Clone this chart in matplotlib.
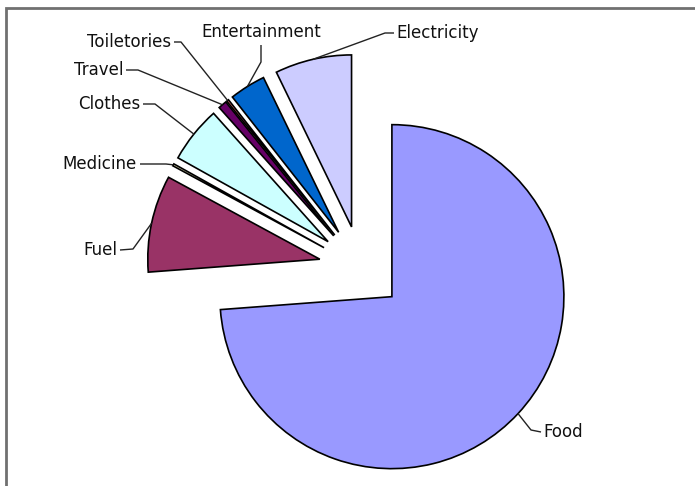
import matplotlib
matplotlib.use("Agg")
import matplotlib.pyplot as plt
import numpy as np
from matplotlib.patches import Rectangle

# ---- data ----
categories = ["Food", "Fuel", "Medicine", "Clothes", "Travel",
              "Toiletories", "Entertainment", "Electricity"]
values = [73.8, 9.1, 0.2, 5.3, 0.8, 0.2, 3.4, 7.2]
colors = ["#9999FF", "#993366", "#FFFFCC", "#CCFFFF", "#660066",
          "#FF8080", "#0066CC", "#CCCCFF"]

# ---- layout (pixels of a 695x486 canvas) ----
W, H = 695, 486
CX, CY, R = 361, 268, 172          # pie centre and radius in pixels
EXPLODE = 0.245

# label text anchor (px), alignment, and leader elbow points (px)
label_pos = {
    "Food":          ((543, 432), "left",   [(531, 430), (541, 432)]),
    "Fuel":          ((117, 250), "right",  [(133, 249), (120, 250)]),
    "Medicine":      ((137, 164), "right",  [(166, 164), (140, 164)]),
    "Clothes":       ((140, 104), "right",  [(155, 104), (143, 104)]),
    "Travel":        ((123, 70),  "right",  [(138, 70), (126, 70)]),
    "Toiletories":   ((171, 42),  "right",  [(181, 42), (174, 42)]),
    "Entertainment": ((261, 32),  "center", [(261, 62), (261, 45)]),
    "Electricity":   ((396, 33),  "left",   [(385, 33), (394, 33)]),
}


def d(px, py):
    return (px - CX) / R, (CY - py) / R


fig = plt.figure(figsize=(W / 100, H / 100), dpi=100)
ax = fig.add_axes([0, 0, 1, 1])

wedges, _ = ax.pie(values, colors=colors, explode=[EXPLODE] * len(values),
                   startangle=90, counterclock=False, radius=1,
                   wedgeprops=dict(edgecolor="black", linewidth=1.2))

ax.set_aspect("auto")
ax.set_xlim((0 - CX) / R, (W - CX) / R)
ax.set_ylim((CY - H) / R, CY / R)
ax.axis("off")

for w, name in zip(wedges, categories):
    mid = np.deg2rad((w.theta1 + w.theta2) / 2)
    ax0 = w.center[0] + w.r * np.cos(mid)
    ay0 = w.center[1] + w.r * np.sin(mid)
    (tx, ty), ha, elbows = label_pos[name]
    xs = [ax0] + [d(*p)[0] for p in elbows]
    ys = [ay0] + [d(*p)[1] for p in elbows]
    ax.plot(xs, ys, color="#222222", lw=1.0, solid_capstyle="butt")
    x, y = d(tx, ty)
    ax.text(x, y, name, ha=ha, va="center", fontsize=12,
            family="DejaVu Sans", color="#111111")

# chart frame (Excel-like border)
fig.patches.append(Rectangle((6 / W, -0.05), 1.1, 1 - 8 / H + 0.05,
                             transform=fig.transFigure, fill=False,
                             edgecolor="#707070", linewidth=2.0))

fig.savefig("out.png", dpi=100, facecolor="white")
